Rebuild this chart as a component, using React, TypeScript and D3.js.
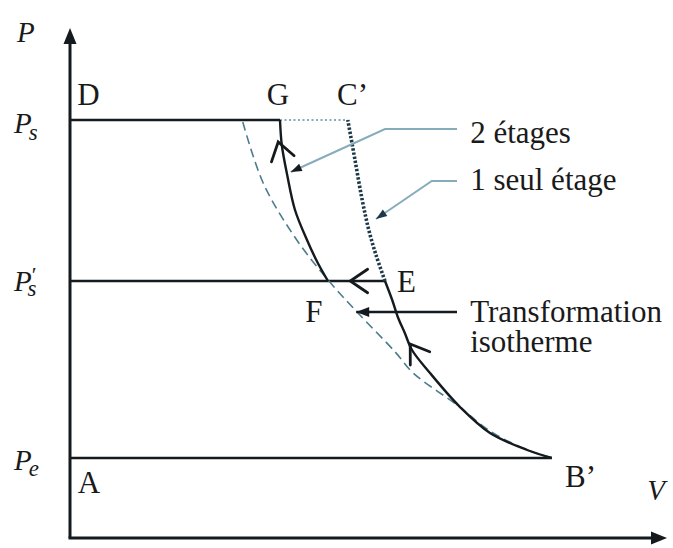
import React from "react";
import * as d3 from "d3";

// ---- data (arbitrary units: V horizontal, P vertical) ----
const P_E = 1.6;
const P_S_PRIME = 5.14;
const P_S = 8.36;
const V_AXIS_END = 9.95;
const P_AXIS_END = 10.2;

// isothermal compression (dashed)
const isothermV = [2.88, 3.22, 3.78, 4.33, 4.8, 5.42, 5.72, 6.45, 7.0, 7.62, 8.03];
const isothermP = [8.32, 7.1, 5.96, 5.12, 4.5, 3.72, 3.3, 2.66, 2.14, 1.76, 1.6];

// first stage adiabatic compression B' -> E (solid)
const stage1V = [8.03, 7.62, 7.0, 6.5, 6.0, 5.7, 5.58, 5.47, 5.37, 5.25];
const stage1P = [1.6, 1.76, 2.1, 2.62, 3.3, 3.76, 4.1, 4.4, 4.76, 5.14];

// single stage continuation E -> C' (dotted)
const singleV = [5.25, 5.1, 4.98, 4.87, 4.75, 4.63];
const singleP = [5.14, 5.66, 6.16, 6.76, 7.56, 8.36];

// second stage F -> G (solid)
const stage2V = [4.3, 4.13, 3.95, 3.75, 3.62, 3.53, 3.5];
const stage2P = [5.14, 5.5, 5.96, 6.56, 7.26, 7.86, 8.36];

// point labels
const pointNames = ["D", "G", "C\u2019", "E", "F", "A", "B\u2019"];
const pointLabelV = [0.12, 3.28, 4.45, 5.45, 3.92, 0.13, 8.25];
const pointLabelP = [8.66, 8.66, 8.66, 4.92, 4.32, 0.9, 1.02];

// annotation texts
const noteTexts = ["2 étages", "1 seul étage", "Transformation", "isotherme"];
const noteV = [6.67, 6.67, 6.67, 6.67];
const noteP = [7.9, 6.96, 4.32, 3.72];

// annotation pointer polylines (first point = arrow tip)
const pointer1V = [3.68, 5.25, 6.45];
const pointer1P = [7.32, 8.18, 8.18];
const pointer2V = [5.1, 6.03, 6.45];
const pointer2P = [6.38, 7.14, 7.14];
const pointer3V = [4.77, 6.45];
const pointer3P = [4.52, 4.52];

// direction chevrons along the cycle: tip and a point behind it
const chevronTipV = [3.47, 4.67, 5.67];
const chevronTipP = [7.92, 5.14, 3.88];
const chevronFromV = [3.62, 5.25, 6.0];
const chevronFromP = [7.26, 5.14, 3.3];

const W = 673;
const H = 548;

const x = d3.scaleLinear().domain([0, 10]).range([70, 670]);
const y = d3.scaleLinear().domain([0, 10]).range([538, 38]);

const zip = (vs: number[], ps: number[]) => vs.map((v, i) => [v, ps[i]] as [number, number]);

const smooth = d3
  .line<[number, number]>()
  .x((d) => x(d[0]))
  .y((d) => y(d[1]))
  .curve(d3.curveCatmullRom.alpha(0.5));

const straight = d3
  .line<[number, number]>()
  .x((d) => x(d[0]))
  .y((d) => y(d[1]));

const DARK = "#141a1e";
const DOT_DARK = "#1d3848";
const LIGHT = "#86acbb";
const DASH = "#4d7c8e";
const SERIF = "'Liberation Serif', 'Times New Roman', serif";

function chevron(i: number) {
  const tx = x(chevronTipV[i]);
  const ty = y(chevronTipP[i]);
  const fx = x(chevronFromV[i]);
  const fy = y(chevronFromP[i]);
  const len = Math.hypot(tx - fx, ty - fy);
  const bx = (fx - tx) / len;
  const by = (fy - ty) / len;
  const L = 21;
  const a = (34 * Math.PI) / 180;
  const rot = (ang: number) => [bx * Math.cos(ang) - by * Math.sin(ang), bx * Math.sin(ang) + by * Math.cos(ang)];
  const r1 = rot(a);
  const r2 = rot(-a);
  return `M${tx + r1[0] * L},${ty + r1[1] * L}L${tx},${ty}L${tx + r2[0] * L},${ty + r2[1] * L}`;
}

function headAt(vs: number[], ps: number[], L = 11, Wd = 4) {
  const tx = x(vs[0]);
  const ty = y(ps[0]);
  const fx = x(vs[1]);
  const fy = y(ps[1]);
  const len = Math.hypot(fx - tx, fy - ty);
  const ux = (fx - tx) / len;
  const uy = (fy - ty) / len;
  const bx = tx + ux * L;
  const by = ty + uy * L;
  return `M${tx},${ty}L${bx - uy * Wd},${by + ux * Wd}L${bx + uy * Wd},${by - ux * Wd}Z`;
}

export default function App() {
  const x0 = x(0);
  const y0 = y(0);
  const yTop = y(P_AXIS_END);
  const xEnd = x(V_AXIS_END);
  const vG = stage2V[stage2V.length - 1];
  const vC = singleV[singleV.length - 1];
  const vE = stage1V[stage1V.length - 1];
  const vB = stage1V[0];

  return (
    <svg
      width={W}
      height={H}
      viewBox={`0 0 ${W} ${H}`}
      style={{ position: "absolute", left: 0, top: 0, background: "#fff", display: "block" }}
    >
      {/* isobars */}
      <path d={straight([[0, P_S], [vG, P_S]])!} stroke={DARK} strokeWidth={2.6} fill="none" />
      <path
        d={straight([[vG, P_S], [vC, P_S]])!}
        stroke={LIGHT}
        strokeWidth={2}
        strokeDasharray="2 2.5"
        fill="none"
      />
      <path d={straight([[0, P_S_PRIME], [vE, P_S_PRIME]])!} stroke={DARK} strokeWidth={2.6} fill="none" />
      <path d={straight([[0, P_E], [vB, P_E]])!} stroke={DARK} strokeWidth={2.6} fill="none" />

      {/* isotherm */}
      <path
        d={smooth(zip(isothermV, isothermP))!}
        stroke={DASH}
        strokeWidth={1.6}
        strokeDasharray="9 5"
        fill="none"
      />
      {/* single stage dotted */}
      <path
        d={smooth(zip(singleV, singleP))!}
        stroke={DOT_DARK}
        strokeWidth={3.6}
        strokeDasharray="2.4 1.8"
        fill="none"
      />
      {/* stage 1 & 2 solid */}
      <path d={smooth(zip(stage1V, stage1P))!} stroke={DARK} strokeWidth={2.4} fill="none" />
      <path d={smooth(zip(stage2V, stage2P))!} stroke={DARK} strokeWidth={2.4} fill="none" />

      {/* direction chevrons */}
      {chevronTipV.map((_, i) => (
        <path key={i} d={chevron(i)} stroke={DARK} strokeWidth={2.8} fill="none" strokeLinecap="round" />
      ))}

      {/* pointers */}
      <path d={straight(zip(pointer1V, pointer1P))!} stroke={LIGHT} strokeWidth={2} fill="none" />
      <path d={headAt(pointer1V, pointer1P)} fill={DARK} />
      <path d={straight(zip(pointer2V, pointer2P))!} stroke={LIGHT} strokeWidth={2} fill="none" />
      <path d={headAt(pointer2V, pointer2P)} fill={DOT_DARK} />
      <path d={straight(zip(pointer3V, pointer3P))!} stroke={DARK} strokeWidth={2.4} fill="none" />
      <path d={headAt(pointer3V, pointer3P, 13, 5)} fill={DARK} />

      {/* axes */}
      <line x1={x0} y1={y0} x2={x0} y2={yTop + 12} stroke={DARK} strokeWidth={3} />
      <line x1={x0 - 1.5} y1={y0} x2={xEnd - 12} y2={y0} stroke={DARK} strokeWidth={3} />
      <path d={`M${x0},${yTop}L${x0 - 6.5},${yTop + 16}L${x0 + 6.5},${yTop + 16}Z`} fill={DARK} />
      <path d={`M${xEnd},${y0}L${xEnd - 16},${y0 - 6.5}L${xEnd - 16},${y0 + 6.5}Z`} fill={DARK} />

      {/* point labels */}
      {pointNames.map((n, i) => (
        <text
          key={n}
          x={x(pointLabelV[i])}
          y={y(pointLabelP[i])}
          fontFamily={SERIF}
          fontSize={31}
          fill="#1a1a1a"
        >
          {n}
        </text>
      ))}

      {/* annotation texts */}
      {noteTexts.map((t, i) => (
        <text key={t} x={x(noteV[i])} y={y(noteP[i])} fontFamily={SERIF} fontSize={31} fill="#1a1a1a">
          {t}
        </text>
      ))}

      {/* axis labels */}
      <g fontFamily={SERIF} fontStyle="italic" fill="#1a1a1a">
        <text x={17} y={42} fontSize={29}>P</text>
        <text x={x(9.62)} y={y(0.76)} fontSize={29}>V</text>

        <text x={14} y={y(P_S) + 13} fontSize={29}>
          P
          <tspan dx={-3} dy={7} fontSize={23}>s</tspan>
        </text>

        <text x={14} y={y(P_S_PRIME) + 10} fontSize={29}>
          P
          <tspan dx={0} dy={-9} fontSize={22} fontStyle="normal">{"\u2032"}</tspan>
          <tspan dx={-9} dy={14} fontSize={23}>s</tspan>
        </text>

        <text x={14} y={y(P_E) + 12} fontSize={29}>
          P
          <tspan dx={-3} dy={6} fontSize={23}>e</tspan>
        </text>
      </g>
    </svg>
  );
}
